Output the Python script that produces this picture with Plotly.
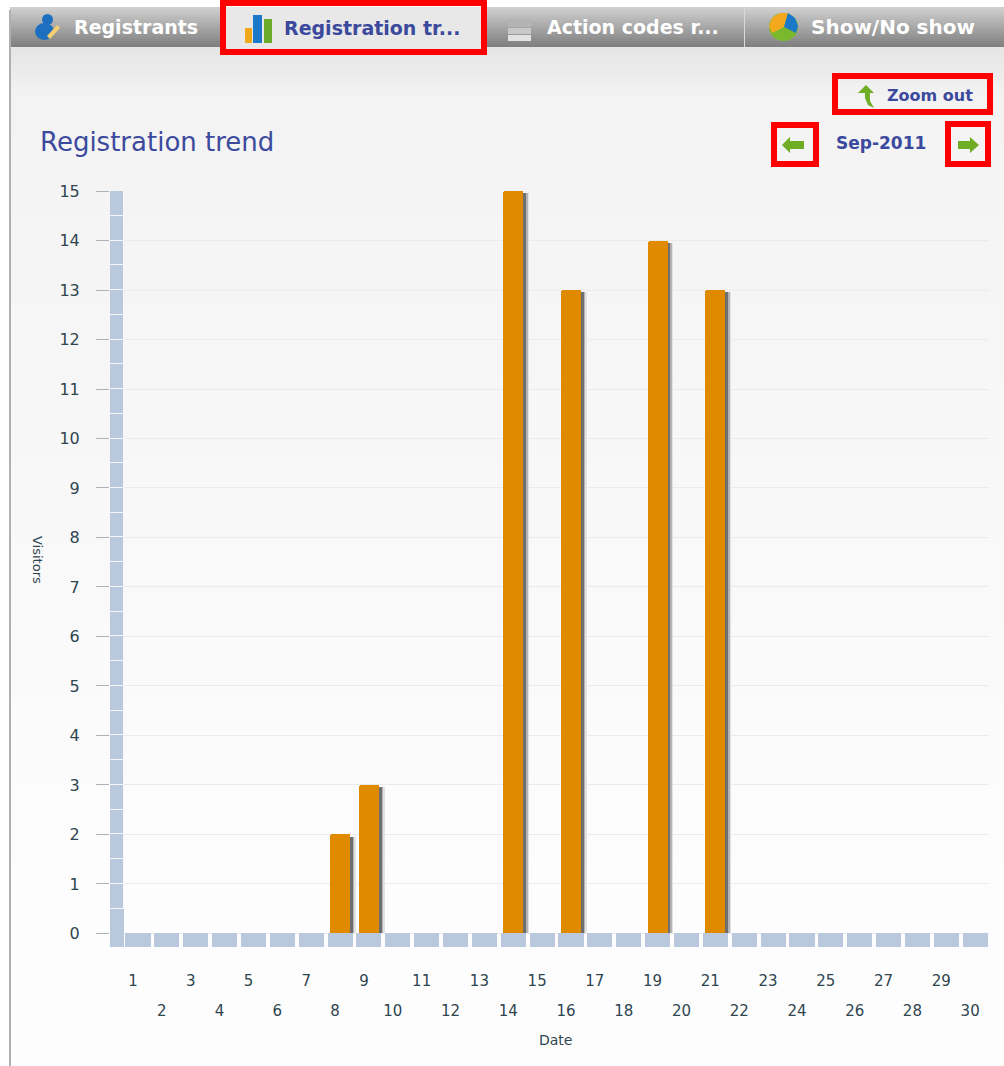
import plotly.graph_objects as go

W, H = 1004, 1066

# ---- data ----
days = list(range(1, 31))
visitors = [0, 0, 0, 0, 0, 0, 0, 2, 3, 0, 0, 0, 0, 15, 0, 13, 0, 0, 14, 0, 13, 0, 0, 0, 0, 0, 0, 0, 0, 0]
y_ticks = list(range(0, 16))
odd_days = [d for d in days if d % 2 == 1]
even_days = [d for d in days if d % 2 == 0]
wall_bottoms = [i / 2 for i in range(1, 30)]
tab_labels = ["Registrants", "Registration tr...", "Action codes r...", "Show/No show"]
chart_title = "Registration trend"
period_label = "Sep-2011"
zoom_label = "Zoom out"

BLUE = "#3c4a9e"
WALL = "#b9c8dc"
BAR = "#e08a00"
FONT = "DejaVu Sans"
DARK = "#2f4550"


def px(x):
    return x / W


def py(y):
    return 1 - y / H


shapes = []


def rect(x0, y0, x1, y1, fill=None, line=None, lw=0, layer="below"):
    shapes.append(dict(type="rect", xref="paper", yref="paper", x0=px(x0), x1=px(x1),
                       y0=py(y1), y1=py(y0), fillcolor=fill or "rgba(0,0,0,0)",
                       line=dict(color=line or "rgba(0,0,0,0)", width=lw), layer=layer))


def poly(points, fill, layer="below"):
    d = "M " + " L ".join(f"{px(a):.5f} {py(b):.5f}" for a, b in points) + " Z"
    shapes.append(dict(type="path", xref="paper", yref="paper", path=d, fillcolor=fill,
                       line=dict(width=0), layer=layer))


def oval(x0, y0, x1, y1, fill, layer="below"):
    shapes.append(dict(type="circle", xref="paper", yref="paper", x0=px(x0), x1=px(x1),
                       y0=py(y1), y1=py(y0), fillcolor=fill, line=dict(width=0), layer=layer))


def mix(a, b, t):
    return "#" + "".join(f"{round(p + (q - p) * t):02x}" for p, q in zip(a, b))


# panel background gradient (each band runs on to the page end, so no seams)
for i in range(0, 9):
    rect(10, 47 + i * 6, 1004, 1066, fill=mix((0xe6, 0xe6, 0xe6), (0xf3, 0xf3, 0xf3), i / 8))
for i in range(0, 20):
    rect(10, 100 + i * 40, 1004, 1066, fill=mix((0xf3, 0xf3, 0xf3), (0xfd, 0xfd, 0xfd), i / 19))
# tab bar gradient
for i in range(0, 20):
    rect(10, 7 + i * 2, 1004, 47, fill=mix((0xcf, 0xcf, 0xcf), (0x80, 0x80, 0x80), i / 19))
rect(222, 7, 486, 52, fill="#e8e8e8")
rect(9, 10, 11, 1066, fill="#b0b0b0")
rect(744, 7, 745, 47, fill="#d8d8d8")

# red highlight frames
for x0, y0, x1, y1 in [(223, 3, 484, 52), (835, 76, 990, 112), (774, 125, 816, 164), (948, 124, 988, 164)]:
    rect(x0, y0, x1, y1, line="#ff0000", lw=6, layer="above")

# icons: person
oval(42, 14, 53, 25, "#1f6fc0")
oval(35, 23, 54, 40, "#1f6fc0")
poly([(47, 36), (57, 25), (60, 28), (50, 39)], "#f4cf70")
# icons: bars
rect(245, 28, 252, 43, fill="#f0a818")
rect(253, 15, 262, 43, fill="#1c78c8")
rect(264, 19, 272, 43, fill="#6cab2a")
# icons: stack
rect(508, 19, 531, 27, fill="#b4b4b4")
rect(508, 28, 531, 34, fill="#c8c8c8")
rect(508, 35, 531, 41, fill="#e2e2e2")
# icons: pie
oval(769, 13, 798, 41, "#7ab82e")
poly([(784, 27), (772, 33), (769, 26), (772, 18), (780, 13), (788, 13)], "#f2a91e")
poly([(784, 27), (788, 13), (795, 18), (798, 26), (796, 33)], "#1c78c8")
# icons: arrows
GREEN = "#6ead24"
poly([(858, 93), (866, 85), (874, 93), (870, 93), (870, 101), (874, 108), (868, 105), (865, 98), (865, 93)], GREEN)
poly([(782, 145), (790, 137), (790, 141), (804, 141), (804, 149), (790, 149), (790, 153)], GREEN)
poly([(979, 145), (970, 137), (970, 141), (958, 141), (958, 149), (970, 149), (970, 153)], GREEN)

fig = go.Figure()

# wall and floor of the 3D-looking axes
fig.add_trace(go.Bar(x=[0.27], y=[0.5 + 0.273], base=[-0.273], width=[0.47], marker=dict(color=WALL, line=dict(width=0))))
fig.add_trace(go.Bar(x=[0.27] * len(wall_bottoms), y=[0.5] * len(wall_bottoms), base=wall_bottoms, width=0.47,
                     marker=dict(color=WALL, line=dict(color="#f6f6f6", width=1))))
fig.add_trace(go.Bar(x=days, y=[0.273] * len(days), base=[-0.273] * len(days), width=0.87,
                     marker=dict(color=WALL, line=dict(width=0))))

# soft shadow, then main bars
nz_d = [d for d, v in zip(days, visitors) if v > 0]
nz_v = [v for v in visitors if v > 0]
for extra, colour in [(0.2, "#e2e2e2"), (0.15, "#b4b4b4"), (0.1, "#6e6e6e")]:
    fig.add_trace(go.Bar(x=nz_d, y=[v - 0.05 for v in nz_v], offset=-0.345 + 0.1, width=0.69 - 0.1 + extra,
                         marker=dict(color=colour, line=dict(width=0))))
fig.add_trace(go.Bar(x=nz_d, y=nz_v, width=0.69, marker=dict(color=BAR, line=dict(width=0), cornerradius=2)))
# invisible trace that keeps the second (even days) label row alive
fig.add_trace(go.Scatter(x=even_days, y=[0] * len(even_days), xaxis="x2", mode="markers",
                         marker=dict(opacity=0, size=1), hoverinfo="skip"))

x_range = [0.03, 30.48]
tick_font = dict(family=FONT, size=15, color=DARK)
axis_x = dict(domain=[px(110), px(989)], range=x_range, showgrid=False, zeroline=False, showline=False,
              tickmode="array", ticks="", tickfont=tick_font, ticklabelshift=-5, automargin=False)

annotations = [
    dict(text=tab_labels[0], x=72, y=27, size=19, color="#ffffff", bold=True),
    dict(text=tab_labels[1], x=282, y=28, size=19, color=BLUE, bold=True),
    dict(text=tab_labels[2], x=545, y=27, size=19, color="#ffffff", bold=True),
    dict(text=tab_labels[3], x=809, y=27, size=20, color="#ffffff", bold=True),
    dict(text=zoom_label, x=885, y=96, size=16, color=BLUE, bold=True),
    dict(text=period_label, x=834, y=143, size=17, color=BLUE, bold=True),
]
anns = []
for a in annotations:
    t = f"<b>{a['text']}</b>" if a["bold"] else a["text"]
    anns.append(dict(text=t, xref="paper", yref="paper", x=px(a["x"]), y=py(a["y"]), xanchor="left",
                     yanchor="middle", showarrow=False, font=dict(family=FONT, size=a["size"], color=a["color"])))
anns.append(dict(text="Visitors", xref="paper", yref="paper", x=px(38), y=py(560), textangle=90,
                 xanchor="center", yanchor="middle", showarrow=False, font=dict(family=FONT, size=13, color=DARK)))
anns.append(dict(text="Date", xref="paper", yref="paper", x=px(555), y=py(1040),
                 xanchor="center", yanchor="middle", showarrow=False, font=dict(family=FONT, size=14, color=DARK)))

fig.update_layout(
    width=W, height=H, margin=dict(l=0, r=0, t=0, b=0), autosize=False, showlegend=False,
    barmode="overlay", bargap=0, paper_bgcolor="#ffffff", plot_bgcolor="rgba(0,0,0,0)",
    font=dict(family=FONT),
    title=dict(text=chart_title, x=px(40), y=py(142), xanchor="left", yanchor="middle",
               font=dict(family=FONT, size=26, color=BLUE)),
    xaxis=dict(axis_x, tickvals=odd_days, ticktext=[str(d) for d in odd_days], ticklabelstandoff=23),
    xaxis2=dict(axis_x, tickvals=even_days, ticktext=[str(d) for d in even_days], ticklabelstandoff=53,
                overlaying="x", anchor="y", side="bottom"),
    yaxis=dict(domain=[py(947), py(191)], range=[-0.273, 15], tickmode="array", tickvals=y_ticks,
               ticks="outside", ticklen=13, tickcolor="#aab2ba", tickwidth=1, automargin=False,
               tickfont=dict(family=FONT, size=16, color=DARK),
               ticklabelstandoff=13, showgrid=True, gridcolor="#ebebeb", gridwidth=1, zeroline=False, showline=False),
    shapes=shapes, annotations=anns,
)

fig.write_html("out.html", config=dict(displayModeBar=False),
               post_script="document.body.style.margin='0';")
